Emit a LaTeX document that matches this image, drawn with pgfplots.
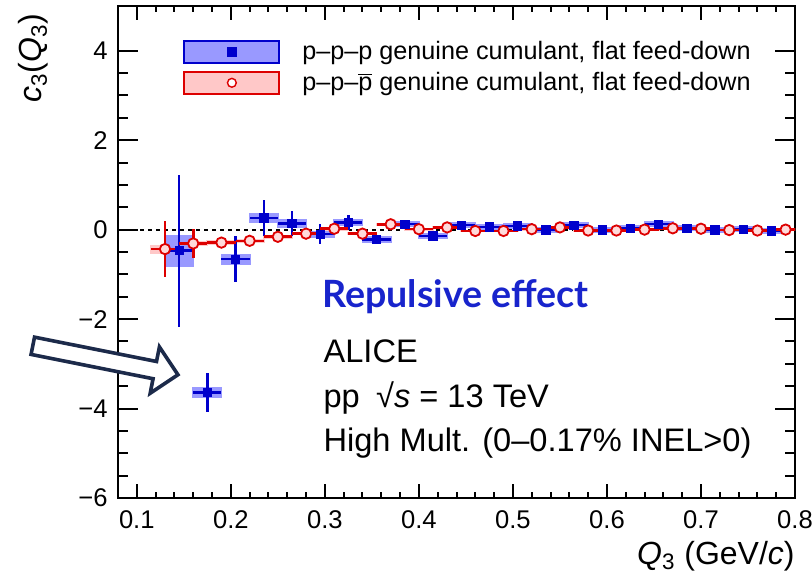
\documentclass[border=0pt]{standalone}
\usepackage{pgfplots}
\usepackage{pgfplotstable}
\pgfplotsset{compat=1.18}
\usepackage{fontspec}
\setmainfont{Liberation Sans}
\newfontfamily\latofont{Lato}
\definecolor{dblue}{RGB}{0,0,204}
\definecolor{lblue}{RGB}{153,153,255}
\definecolor{dred}{RGB}{221,0,0}
\definecolor{lpink}{RGB}{255,200,200}
\definecolor{mpink}{RGB}{255,218,218}
\definecolor{navy}{RGB}{28,42,74}
\definecolor{repblue}{RGB}{24,36,204}

\pgfplotstableread{
x y stat sys
0.145 -0.47 1.70 0.36
0.175 -3.64 0.44 0.12
0.205 -0.66 0.52 0.12
0.235 0.26 0.40 0.12
0.265 0.14 0.28 0.10
0.295 -0.10 0.22 0.08
0.325 0.16 0.17 0.08
0.355 -0.22 0.09 0.07
0.385 0.12 0.08 0.07
0.415 -0.14 0.07 0.07
0.445 0.10 0.06 0.07
0.475 0.06 0.05 0.07
0.505 0.08 0.05 0.07
0.535 -0.01 0.05 0.07
0.565 0.10 0.05 0.07
0.595 -0.01 0.05 0.07
0.625 0.03 0.05 0.07
0.655 0.12 0.05 0.07
0.685 0.03 0.05 0.07
0.715 -0.01 0.05 0.07
0.745 0.01 0.05 0.07
0.775 -0.03 0.05 0.07
}\ppp

\pgfplotstableread{
x y stat sys
0.13 -0.435 0.63 0.10
0.16 -0.31 0.32 0.06
0.19 -0.29 0.13 0.05
0.22 -0.25 0.10 0.05
0.25 -0.16 0.06 0.04
0.28 -0.09 0.05 0.04
0.31 0.02 0.04 0.04
0.34 -0.09 0.04 0.04
0.37 0.12 0.03 0.03
0.40 0.01 0.03 0.03
0.43 0.05 0.03 0.03
0.46 -0.03 0.03 0.03
0.49 -0.03 0.03 0.03
0.52 0.01 0.03 0.03
0.55 0.05 0.03 0.03
0.58 -0.02 0.03 0.03
0.61 -0.02 0.03 0.03
0.64 0.00 0.03 0.03
0.67 0.03 0.03 0.03
0.70 0.02 0.03 0.03
0.73 -0.01 0.03 0.03
0.76 -0.02 0.03 0.03
0.79 0.00 0.03 0.03
}\pppbar

\begin{document}
\begin{tikzpicture}
\begin{axis}[
  at={(0,0)}, anchor=south west,
  scale only axis, width=338.5pt, height=246pt,
  xmin=0.08, xmax=0.8, ymin=-6, ymax=5,
  xtick={0.1,0.2,0.3,0.4,0.5,0.6,0.7,0.8},
  xticklabels={0.1,0.2,0.3,0.4,0.5,0.6,0.7,0.8},
  ytick={-6,-4,-2,0,2,4},
  yticklabels={−6,−4,−2,0,2,4},
  minor x tick num=4, minor y tick num=3,
  tick align=inside,
  major tick length=8pt, minor tick length=4pt,
  xtick style={/pgfplots/major tick length=7pt, /pgfplots/minor tick length=3pt},
  ytick style={/pgfplots/major tick length=10pt, /pgfplots/minor tick length=5pt},
  axis line style={line width=1.2pt},
  tick style={line width=1pt, black},
  tick label style={font=\fontsize{12.8}{14}\selectfont},
  xticklabel style={inner sep=0pt, anchor=north, yshift=-6pt},
  yticklabel style={inner sep=0pt, anchor=east, xshift=-5pt},
  xlabel={\textit{Q}\textsubscript{3} (GeV/\textit{c})},
  ylabel={\textit{c}\textsubscript{3}(\textit{Q}\textsubscript{3})},
  label style={font=\fontsize{16}{18}\selectfont},
  xlabel style={at={(axis description cs:1,0)}, anchor=base east, inner sep=0pt, yshift=-33pt},
  ylabel style={at={(axis description cs:-0.125,0.985)}, anchor=east, inner sep=0pt},
  legend style={at={(axis description cs:0.096,0.938)}, anchor=north west,
    draw=none, fill=none, inner sep=0pt, row sep=1pt, column sep=9pt,
    font=\fontsize{12.6}{14}\selectfont},
  legend cell align=left,
]
% zero line
\addplot[black, dash pattern=on 2pt off 2pt, line width=1pt, forget plot]
  coordinates {(0.095,0) (0.8,0)};
% systematic boxes
\addplot[draw=none, forget plot,
  error bars/.cd, y dir=both, y explicit, error mark=none,
  error bar style={draw=lpink, line width=15pt}]
  table[x=x, y=y, y error=sys] {\pppbar};
\addplot[draw=none, forget plot,
  error bars/.cd, y dir=both, y explicit, error mark=none,
  error bar style={draw=lblue, line width=15pt}]
  table[x=x, y=y, y error=sys] {\ppp};
% p-p-p
\addplot[only marks, mark=square*, mark size=2.1pt, color=dblue,
  mark options={fill=dblue, draw=dblue},
  error bars/.cd, x dir=both, x fixed=0.015, y dir=both, y explicit, error mark=none,
  error bar style={draw=dblue, line width=1.2pt},
  /pgfplots/legend image code/.code={
    \draw[fill=lblue, draw=dblue, line width=1pt] (0pt,-5.5pt) rectangle (47.5pt,5.5pt);
    \fill[dblue] (21.6pt,-2.2pt) rectangle (25.9pt,2.2pt);}]
  table[x=x, y=y, y error=stat] {\ppp};
\addlegendentry{p–p–p genuine cumulant, flat feed-down}
% p-p-pbar
\addplot[only marks, mark=*, mark size=2.6pt, color=dred,
  mark options={fill=mpink, draw=dred, line width=0.9pt},
  error bars/.cd, x dir=both, x fixed=0.015, y dir=both, y explicit, error mark=none,
  error bar style={draw=dred, line width=1.3pt},
  /pgfplots/legend image code/.code={
    \draw[fill=lpink, draw=dred, line width=1pt] (0pt,-5.5pt) rectangle (47.5pt,5.5pt);
    \draw[fill=white, draw=dred, line width=0.7pt] (23.75pt,0pt) circle (2.2pt);}]
  table[x=x, y=y, y error=stat] {\pppbar};
\addlegendentry{p–p–\ensuremath{\overline{\hbox{p}}} genuine cumulant, flat feed-down}

\node[anchor=base west, inner sep=0pt, text=repblue, font=\latofont\bfseries\fontsize{18.8}{20}\selectfont]
  at (axis cs:0.2968,-1.737) {Repulsive effect};
\node[anchor=base west, inner sep=0pt, font=\fontsize{16.3}{18}\selectfont]
  at (axis cs:0.2982,-2.973) {ALICE};
\node[anchor=base west, inner sep=0pt, font=\fontsize{16.3}{18}\selectfont]
  at (axis cs:0.2982,-3.969) {pp\enspace√\textit{s} = 13 TeV};
\node[anchor=base west, inner sep=0pt, font=\fontsize{16.3}{18}\selectfont]
  at (axis cs:0.2982,-4.96) {High Mult. (0–0.17\% INEL>0)};
\end{axis}
% hollow arrow annotation
\begin{scope}[shift={(-42.6pt,76.1pt)}, rotate=-11.27]
  \draw[navy, fill=white, line width=1.8pt, line join=miter]
    (0pt,4.4pt) -- (62.2pt,4.4pt) -- (62.2pt,11.8pt) -- (74pt,0pt)
    -- (62.2pt,-11.8pt) -- (62.2pt,-4.4pt) -- (0pt,-4.4pt) -- cycle;
\end{scope}
\pgfresetboundingbox
\path[use as bounding box] (-59pt,-39.5pt) rectangle (347pt,249pt);
\end{tikzpicture}
\end{document}
